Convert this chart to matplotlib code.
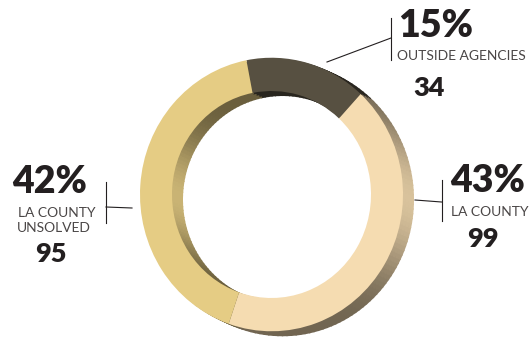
import numpy as np
import matplotlib
matplotlib.use("Agg")
import matplotlib.pyplot as plt
from matplotlib.patches import Wedge
from matplotlib.colors import to_rgb

# ---- data ----
categories = ["OUTSIDE AGENCIES", "LA COUNTY", "LA COUNTY\nUNSOLVED"]
counts = [34, 99, 95]
percents = ["15%", "43%", "42%"]
colors = ["#575041", "#f5dcb1", "#e5cc84"]

W, H = 532, 339
K = 1.04  # vertical stretch of the ring (px per y-unit)

fig = plt.figure(figsize=(W / 100, H / 100), dpi=100)
ax = fig.add_axes([0, 0, 1, 1])

def Y(py):
    return (H - py) / K

cx, cy = 271.5, Y(194.5)
R, width = 131.5, 32.0
start = 101.0
off_x, off_y = 11.0, -5.0 / K

fr = np.array(counts, dtype=float) / sum(counts)
cum = np.cumsum(fr)

def seg_at(theta):
    t = ((start - theta) % 360.0) / 360.0
    return int(np.searchsorted(cum, t, side="right").clip(0, len(counts) - 1))

def bright(phi):
    c = max(0.0, np.cos(np.radians(phi)))
    return 0.46 + 0.42 * c ** 6

# ---- extruded wall (drawn behind) ----
step = 2.0
nsteps = 4
for k in range(nsteps, 0, -1):
    ox, oy = cx + off_x * k / nsteps, cy + off_y * k / nsteps
    for a in np.arange(0, 360, step):
        mid = a + step / 2
        base = np.array(to_rgb(colors[seg_at(mid)]))
        co = np.clip(base * bright(mid), 0, 1)
        ci = np.clip(base * bright(mid + 180), 0, 1)
        ax.add_patch(Wedge((ox, oy), R, a - 0.3, a + step + 0.3, width=width / 2,
                           facecolor=co, edgecolor="none", zorder=1))
        ax.add_patch(Wedge((ox, oy), R - width / 2, a - 0.3, a + step + 0.3,
                           width=width / 2, facecolor=ci, edgecolor="none", zorder=1))

# ---- front face ----
ax.pie(counts, colors=colors, startangle=start, counterclock=False,
       radius=R, center=(cx, cy), frame=True,
       wedgeprops=dict(width=width, linewidth=0, edgecolor="none", zorder=3))

ax.set_xlim(0, W)
ax.set_ylim(0, H / K)
ax.set_aspect("auto")
ax.axis("off")

dark_txt = "#231f20"
grey_txt = "#4a4646"
big = dict(family="Lato", fontweight="heavy", fontsize=27, color=dark_txt, va="baseline", ha="left")
num = dict(family="Lato", fontweight="heavy", fontsize=19.5, color=dark_txt, va="baseline", ha="left")
lab = dict(family="Lato", fontweight="normal", fontsize=10, color=grey_txt, va="baseline", ha="left")

# outside agencies (top right)
ax.text(398, Y(37), percents[0], **big)
ax.text(397, Y(60), categories[0], **lab)
ax.text(413, Y(96), str(counts[0]), **num)
ax.plot([391, 391], [Y(18), Y(60)], color=dark_txt, lw=0.8, zorder=5)
ax.plot([327, 391], [Y(62), Y(38)], color=dark_txt, lw=0.8, zorder=5)

# LA county (right)
ax.text(450, Y(192), percents[1], **big)
ax.text(451, Y(216), categories[1], **lab)
ax.text(467, Y(247), str(counts[1]), **num)
ax.plot([441.5, 441.5], [Y(180), Y(221)], color=dark_txt, lw=0.8, zorder=5)
ax.plot([415, 441.5], [Y(200), Y(202)], color=dark_txt, lw=0.8, zorder=5)

# LA county unsolved (left)
ax.text(12, Y(193), percents[2], **big)
ax.text(18, Y(217), categories[2].split("\n")[0], **lab)
ax.text(17, Y(232), categories[2].split("\n")[1], **lab)
ax.text(35, Y(262), str(counts[2]), **num)
ax.plot([106, 106], [Y(182), Y(223)], color=dark_txt, lw=0.8, zorder=5)
ax.plot([106, 132], [Y(207), Y(208)], color=dark_txt, lw=0.8, zorder=5)

fig.savefig("out.png", dpi=100, facecolor="white")
